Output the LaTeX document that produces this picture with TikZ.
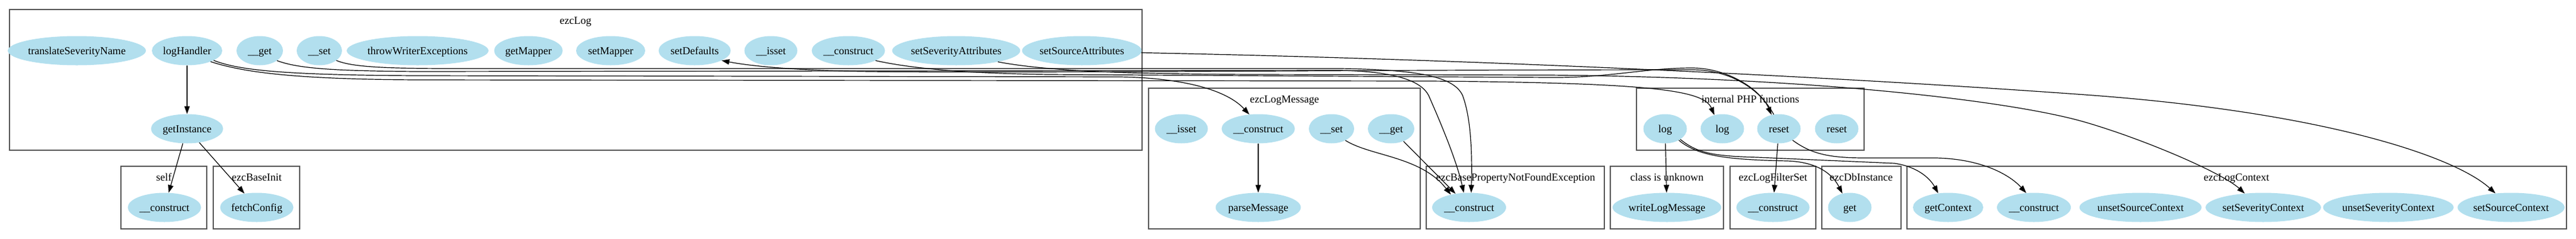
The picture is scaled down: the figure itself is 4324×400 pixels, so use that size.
\documentclass[tikz,border=0pt]{standalone}
\usepackage{fontspec}
\setmainfont{Liberation Serif}
\usetikzlibrary{arrows.meta,shapes.geometric}
\definecolor{nodeblue}{HTML}{B2DFEE}
\definecolor{clustergray}{HTML}{555555}
\begin{document}
\begin{tikzpicture}[x=1pt,y=-1pt,
  fn/.style={ellipse, fill=nodeblue, inner sep=0pt, minimum height=49pt, text height=12.3pt, text depth=0pt, font=\fontsize{18}{20}\selectfont},
  cluster/.style={draw=clustergray, line width=1.3pt},
  clabel/.style={anchor=base, inner sep=0pt, font=\fontsize{18}{20}\selectfont},
  edge/.style={draw=black, line width=1.2pt, -{Triangle[length=13pt,width=9pt]}}
]
\useasboundingbox (0,0) rectangle (4324,400);
% clusters
\draw[cluster] (16,16) rectangle (1917,252);
\node[clabel] (lbLog) at (966,40.5) {ezcLog};
\draw[cluster] (203,279) rectangle (347,384);
\node[clabel] (lbSelf) at (275,303.5) {self};
\draw[cluster] (358,279) rectangle (503,384);
\node[clabel] (lbBase) at (431,303.5) {ezcBaseInit};
\draw[cluster] (1928,148) rectangle (2384,384);
\node[clabel] (lbMsg) at (2156,172.5) {ezcLogMessage};
\draw[cluster] (2394,279) rectangle (2693,384);
\node[clabel] (lbPnf) at (2544,303.5) {ezcBasePropertyNotFoundException};
\draw[cluster] (2703,279) rectangle (2893,384);
\node[clabel] (lbUnk) at (2798,303.5) {class is unknown};
\draw[cluster] (2747,148) rectangle (3129,252);
\node[clabel] (lbPhp) at (2938,172.5) {internal PHP functions};
\draw[cluster] (2904,279) rectangle (3048,384);
\node[clabel] (lbFs) at (2976,303.5) {ezcLogFilterSet};
\draw[cluster] (3058,279) rectangle (3191,384);
\node[clabel] (lbDb) at (3124,303.5) {ezcDbInstance};
\draw[cluster] (3201,279) rectangle (4308,384);
\node[clabel] (lbCtx) at (3754,303.5) {ezcLogContext};
% row 1
\node[fn, minimum width=206pt] (tsn) at (129,85) {translateSeverityName};
\node[fn, minimum width=118pt] (logHandler) at (314,85) {logHandler};
\node[fn, minimum width=78pt] (get) at (436,85) {\_\_get};
\node[fn, minimum width=76pt] (set) at (536,85) {\_\_set};
\node[fn, minimum width=209pt] (twe) at (701,85) {throwWriterExceptions};
\node[fn, minimum width=115pt] (getMapper) at (887,85) {getMapper};
\node[fn, minimum width=116pt] (setMapper) at (1025,85) {setMapper};
\node[fn, minimum width=121pt] (setDefaults) at (1166,85) {setDefaults};
\node[fn, minimum width=89pt] (isset) at (1294,85) {\_\_isset};
\node[fn, minimum width=123pt] (construct) at (1424,85) {\_\_construct};
\node[fn, minimum width=193pt] (ssa) at (1605,85) {setSeverityAttributes};
\node[fn, minimum width=182pt] (sso) at (1816,85) {setSourceAttributes};
% row 2
\node[fn, minimum width=121pt] (getInstance) at (314,216) {getInstance};
\node[fn, minimum width=89pt] (lmisset) at (1983,216) {\_\_isset};
\node[fn, minimum width=123pt] (lmconstruct) at (2112,216) {\_\_construct};
\node[fn, minimum width=76pt] (lmset) at (2235,216) {\_\_set};
\node[fn, minimum width=78pt] (lmget) at (2335,216) {\_\_get};
\node[fn, minimum width=73pt] (log1) at (2795,216) {log};
\node[fn, minimum width=73pt] (log2) at (2891,216) {log};
\node[fn, minimum width=73pt] (reset1) at (2986,216) {reset};
\node[fn, minimum width=73pt] (reset2) at (3083,216) {reset};
% row 3
\node[fn, minimum width=123pt] (selfc) at (276,348) {\_\_construct};
\node[fn, minimum width=123pt] (fetchConfig) at (431,348) {fetchConfig};
\node[fn, minimum width=143pt] (parseMessage) at (2112,348) {parseMessage};
\node[fn, minimum width=124pt] (pnfc) at (2466,348) {\_\_construct};
\node[fn, minimum width=169pt] (writeLogMessage) at (2798,348) {writeLogMessage};
\node[fn, minimum width=123pt] (fsc) at (2976,348) {\_\_construct};
\node[fn, minimum width=73pt] (dbget) at (3105,348) {get};
\node[fn, minimum width=118pt] (getContext) at (3270,348) {getContext};
\node[fn, minimum width=124pt] (lcc) at (3414,348) {\_\_construct};
\node[fn, minimum width=188pt] (unsetSourceContext) at (3593,348) {unsetSourceContext};
\node[fn, minimum width=177pt] (setSeverityContext) at (3799,348) {setSeverityContext};
\node[fn, minimum width=198pt] (unsetSeverityContext) at (4009,348) {unsetSeverityContext};
\node[fn, minimum width=166pt] (setSourceContext) at (4215,348) {setSourceContext};
% edges
\draw[edge] (logHandler) -- (getInstance);
\draw[edge] (getInstance) -- (selfc);
\draw[edge] (getInstance) -- (fetchConfig);
\draw[edge] (lmconstruct) -- (parseMessage);
\draw[edge] (log1) -- (writeLogMessage);
\draw[edge] (reset1) -- (fsc);
\draw[edge] (lmget) -- (pnfc);
\draw[edge] (lmset.-40) .. controls (2300,262) and (2385,262) .. (pnfc.145);
\draw[edge] (logHandler.-20) .. controls (400,118) and (480,126) .. (700,127) -- (1880,129) .. controls (1990,131) and (2060,152) .. (lmconstruct.122);
\draw[edge] (logHandler.-25) .. controls (410,122) and (500,133) .. (700,134) -- (2400,136) .. controls (2780,139) and (2860,152) .. (log2.120);
\draw[edge] (get.-30) .. controls (500,115) and (560,119) .. (700,120) -- (2250,118) .. controls (2340,120) and (2385,135) .. (2398,160) .. controls (2420,210) and (2445,270) .. (pnfc.110);
\draw[edge] (set.-30) .. controls (590,112) and (640,115) .. (760,115) -- (2250,115) .. controls (2380,117) and (2440,128) .. (2455,160) .. controls (2470,200) and (2471,262) .. (pnfc.82);
\draw[edge] (construct.-20) .. controls (1530,115) and (1620,123) .. (1760,125) -- (2600,130) .. controls (2700,131) and (2760,114) .. (2840,114) .. controls (2900,114) and (2955,150) .. (reset1.118);
\draw[edge] (reset1.110) .. controls (2955,150) and (2905,117) .. (2840,117) .. controls (2300,117) and (1700,123) .. (1460,120) .. controls (1310,118) and (1245,108) .. (setDefaults.-20);
\draw[edge] (ssa.-15) .. controls (1760,120) and (1900,124) .. (2100,125) -- (2600,126) .. controls (3050,130) and (3380,170) .. (3500,205) .. controls (3600,234) and (3730,290) .. (setSeverityContext.143);
\draw[edge] (sso.-2) .. controls (2500,100) and (3100,130) .. (3500,159) .. controls (3900,188) and (4120,262) .. (setSourceContext.138);
\draw[edge] (log1.-40) .. controls (2850,262) and (2900,268) .. (3000,270) .. controls (3060,272) and (3080,300) .. (dbget.118);
\draw[edge] (log1.-35) .. controls (2850,258) and (2880,262) .. (2950,264) -- (3180,274) .. controls (3220,280) and (3240,300) .. (getContext.125);
\draw[edge] (reset1.-40) .. controls (3040,258) and (3070,265) .. (3130,265) -- (3250,265) .. controls (3330,267) and (3375,295) .. (lcc.118);
\end{tikzpicture}
\end{document}
